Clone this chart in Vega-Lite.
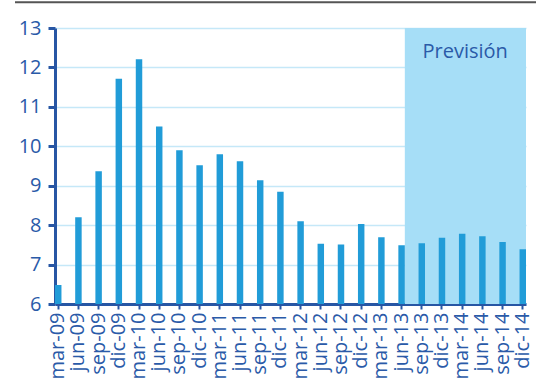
{
  "$schema": "https://vega.github.io/schema/vega-lite/v6.json",
  "width": 471,
  "height": 276,
  "autosize": {"type": "none"},
  "padding": {"left": 55, "top": 28, "right": 10, "bottom": 84},
  "config": {
    "view": {"stroke": null},
    "font": "Open Sans",
    "axis": {"labelFont": "Open Sans", "labelColor": "#2a5aa8", "domainColor": "#2756a4", "tickColor": "#2756a4", "labelOverlap": false, "zindex": 1, "domainWidth": 3},
    "axisX": {"labelAngle": -90, "labelAlign": "right", "labelBaseline": "middle", "labelFontSize": 20, "labelPadding": 3, "tickSize": 5, "tickWidth": 2, "grid": false},
    "axisY": {"labelFontSize": 20, "labelPadding": 7, "tickSize": 7, "tickWidth": 3, "tickCount": 8, "grid": true, "gridColor": "#c5e8f8", "gridWidth": 1.5}
  },
  "layer": [
    {
      "data": {"values": [{"start": "jun-13", "end": "dic-14", "top": 13, "bottom": 6}]},
      "mark": {"type": "rect", "color": "#a6def7"},
      "encoding": {
        "x": {"field": "start", "type": "ordinal", "bandPosition": 1, "title": null},
        "x2": {"field": "end", "bandPosition": 1},
        "y": {"field": "top", "type": "quantitative", "title": null},
        "y2": {"field": "bottom"}
      }
    },
    {
      "data": {"values": [
        {"period": "mar-09", "value": 6.48},
        {"period": "jun-09", "value": 8.2},
        {"period": "sep-09", "value": 9.37},
        {"period": "dic-09", "value": 11.71},
        {"period": "mar-10", "value": 12.21},
        {"period": "jun-10", "value": 10.5},
        {"period": "sep-10", "value": 9.9},
        {"period": "dic-10", "value": 9.52},
        {"period": "mar-11", "value": 9.8},
        {"period": "jun-11", "value": 9.62},
        {"period": "sep-11", "value": 9.14},
        {"period": "dic-11", "value": 8.85},
        {"period": "mar-12", "value": 8.1},
        {"period": "jun-12", "value": 7.53},
        {"period": "sep-12", "value": 7.51},
        {"period": "dic-12", "value": 8.03},
        {"period": "mar-13", "value": 7.69},
        {"period": "jun-13", "value": 7.49},
        {"period": "sep-13", "value": 7.54},
        {"period": "dic-13", "value": 7.68},
        {"period": "mar-14", "value": 7.78},
        {"period": "jun-14", "value": 7.72},
        {"period": "sep-14", "value": 7.57},
        {"period": "dic-14", "value": 7.39}
      ]},
      "mark": {"type": "bar", "color": "#219cd8", "clip": true},
      "encoding": {
        "x": {
          "field": "period",
          "type": "ordinal",
          "sort": null,
          "title": null,
          "scale": {
            "domain": ["mar-09","jun-09","sep-09","dic-09","mar-10","jun-10","sep-10","dic-10","mar-11","jun-11","sep-11","dic-11","mar-12","jun-12","sep-12","dic-12","mar-13","jun-13","sep-13","dic-13","mar-14","jun-14","sep-14","dic-14"],
            "paddingInner": 0.68,
            "paddingOuter": 0
          }
        },
        "y": {
          "field": "value",
          "type": "quantitative",
          "title": null,
          "scale": {"domain": [6, 13], "nice": false, "zero": false}
        }
      }
    },
    {
      "data": {"values": [{"label": "Previsión", "period": "mar-14", "y": 12.4}]},
      "mark": {"type": "text", "color": "#2a5aa8", "fontSize": 20, "font": "Open Sans", "dx": 3, "align": "center", "baseline": "middle"},
      "encoding": {
        "x": {"field": "period", "type": "ordinal", "title": null},
        "y": {"field": "y", "type": "quantitative", "title": null},
        "text": {"field": "label"}
      }
    },
    {
      "data": {"values": [{"a": "mar-09", "b": "dic-14", "y": 13.65}]},
      "mark": {"type": "rule", "color": "#555555", "strokeWidth": 2, "clip": false, "xOffset": -40, "x2Offset": 10},
      "encoding": {
        "x": {"field": "a", "type": "ordinal", "bandPosition": 0, "title": null},
        "x2": {"field": "b", "bandPosition": 1},
        "y": {"field": "y", "type": "quantitative", "title": null}
      }
    }
  ]
}
